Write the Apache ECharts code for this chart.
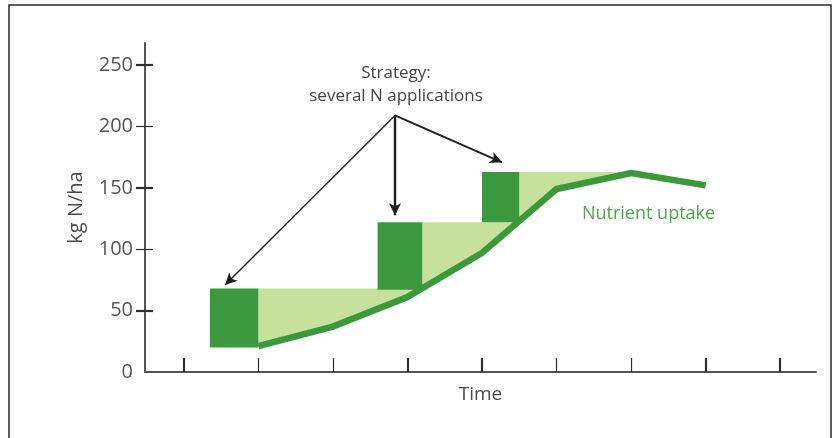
<!DOCTYPE html>
<html>
<head>
<meta charset="utf-8">
<script src="https://cdn.jsdelivr.net/npm/echarts@6/dist/echarts.min.js"></script>
<style>
  html, body { margin: 0; padding: 0; background: #ffffff; }
  #chart { width: 840px; height: 438px; }
</style>
</head>
<body>
<div id="chart"></div>
<script>
// Nutrient uptake over the season (kg N/ha) at each time step
const timeX = [2, 3, 4, 5, 6, 7, 8];
const uptakeValues = [21, 37, 61, 97, 149, 162, 152];

// Split N applications: time span of each dose and the N level before/after it
const applicationStart = [1.35, 3.6, 5.0];
const applicationEnd = [2.0, 4.2, 5.5];
const applicationBase = [20, 67, 122];
const applicationTop = [68, 122, 163];

// Axis ticks
const yTickLabels = [0, 50, 100, 150, 200, 250];
const yTicksBold = [50, 150, 250];
const yTicksThin = [100, 200];
const xTicksBold = [1, 4, 5, 8, 9];
const xTicksThin = [2, 3, 6, 7];

// Annotation arrows: from the label towards each application
const arrowFrom = [3.833, 209];
const arrowTo = [[1.553, 70.8], [3.833, 127.7], [5.268, 170.8]];
const arrowWidth = [1.4, 2.4, 1.9];

const FONT = "'Open Sans', 'Liberation Sans', sans-serif";
const DARK_GREEN = '#3b983c';
const LIGHT_GREEN = '#c6e19c';
const AXIS_GREY = '#4a4a4a';

const uptakePoints = timeX.map((x, i) => [x, uptakeValues[i]]);

function uptakeAt(x) {
  for (let i = 0; i < uptakePoints.length - 1; i++) {
    const [x0, y0] = uptakePoints[i];
    const [x1, y1] = uptakePoints[i + 1];
    if (x >= x0 && x <= x1) return y0 + (y1 - y0) * (x - x0) / (x1 - x0);
  }
  return uptakePoints[uptakePoints.length - 1][1];
}

// Area between an application's N level and the uptake curve
function surplusPolygon(i) {
  const level = applicationTop[i];
  const x0 = applicationEnd[i];
  const pts = [[x0, level]];
  const below = [];
  let xEnd = null;
  for (let k = 0; k < uptakePoints.length - 1; k++) {
    const [xa, ya] = uptakePoints[k];
    const [xb, yb] = uptakePoints[k + 1];
    if (xb <= x0) continue;
    if (yb >= level && ya < level) {
      xEnd = xa + (xb - xa) * (level - ya) / (yb - ya);
      break;
    }
    below.push([xb, yb]);
    if (yb > ya && k + 2 < uptakePoints.length && uptakePoints[k + 2][1] < yb) {
      xEnd = xb; // curve peaks below this level
      below.pop();
      break;
    }
  }
  if (xEnd === null) xEnd = uptakePoints[uptakePoints.length - 1][0];
  pts.push([xEnd, level]);
  pts.push([xEnd, uptakeAt(xEnd)]);
  for (let k = below.length - 1; k >= 0; k--) {
    if (below[k][0] < xEnd) pts.push(below[k]);
  }
  pts.push([x0, uptakeAt(x0)]);
  return pts;
}

const surplus = applicationTop.map((_, i) => surplusPolygon(i));

const chart = echarts.init(document.getElementById('chart'), null, { renderer: 'canvas' });

const X_MIN = 0.48, X_MAX = 9.48, Y_MAX = 268;

function tickAxisX(values, width) {
  return {
    type: 'value', position: 'bottom', min: X_MIN, max: X_MAX, offset: 6,
    axisLine: { show: false }, splitLine: { show: false }, axisLabel: { show: false },
    axisTick: { show: true, inside: true, length: 14, customValues: values,
      lineStyle: { color: '#2e2e2e', width: width } }
  };
}
function tickAxisY(values, width) {
  return {
    type: 'value', position: 'left', min: 0, max: Y_MAX, offset: 9,
    axisLine: { show: false }, splitLine: { show: false }, axisLabel: { show: false },
    axisTick: { show: true, inside: true, length: 17, customValues: values,
      lineStyle: { color: '#2e2e2e', width: width } }
  };
}

chart.setOption({
  backgroundColor: '#ffffff',
  animation: false,
  grid: { left: 145, right: 24, top: 43, bottom: 66, containLabel: false },
  xAxis: [
    {
      type: 'value', position: 'bottom', min: X_MIN, max: X_MAX,
      name: 'Time', nameLocation: 'middle', nameGap: 13,
      nameTextStyle: { fontFamily: FONT, fontSize: 19, color: AXIS_GREY },
      axisLine: { show: true, lineStyle: { color: '#555', width: 2 } },
      axisTick: { show: false }, axisLabel: { show: false }, splitLine: { show: false }
    },
    tickAxisX(xTicksBold, 2.2),
    tickAxisX(xTicksThin, 1.2)
  ],
  yAxis: [
    {
      type: 'value', position: 'left', min: 0, max: Y_MAX,
      name: 'kg N/ha', nameLocation: 'middle', nameGap: 59, nameRotate: 90,
      nameTextStyle: { fontFamily: FONT, fontSize: 20, color: AXIS_GREY },
      axisLine: { show: true, lineStyle: { color: '#555', width: 2 } },
      axisTick: { show: false }, splitLine: { show: false },
      axisLabel: { show: true, customValues: yTickLabels, margin: 12,
        fontFamily: FONT, fontSize: 20, color: '#555' }
    },
    tickAxisY(yTicksBold, 2.2),
    tickAxisY(yTicksThin, 1.2)
  ],
  series: [
    {
      name: 'surplus',
      type: 'custom',
      z: 1,
      silent: true,
      data: surplus.map(p => p[0]),
      renderItem: function (params, api) {
        const poly = surplus[params.dataIndex];
        return {
          type: 'polygon',
          shape: { points: poly.map(p => api.coord(p)) },
          style: { fill: LIGHT_GREEN }
        };
      }
    },
    {
      name: 'applications',
      type: 'custom',
      z: 2,
      silent: true,
      data: applicationStart.map((x, i) => [x, applicationTop[i]]),
      renderItem: function (params, api) {
        const i = params.dataIndex;
        const a = api.coord([applicationStart[i], applicationTop[i]]);
        const b = api.coord([applicationEnd[i], applicationBase[i]]);
        return {
          type: 'rect',
          shape: { x: a[0], y: a[1], width: b[0] - a[0], height: b[1] - a[1] },
          style: { fill: DARK_GREEN }
        };
      }
    },
    {
      name: 'Nutrient uptake',
      type: 'line',
      z: 3,
      silent: true,
      data: uptakePoints,
      showSymbol: false,
      lineStyle: { color: DARK_GREEN, width: 6.5, cap: 'butt', join: 'miter' },
      markLine: {
        silent: true,
        symbol: ['none', 'arrow'],
        symbolSize: [9, 12],
        label: { show: false },
        data: arrowTo.map((t, i) => [
          { coord: arrowFrom, lineStyle: { color: '#1e1e1e', width: arrowWidth[i], type: 'solid' } },
          { coord: t }
        ])
      }
    }
  ]
});

// Text annotations anchored in data space
const strategyPos = chart.convertToPixel({ gridIndex: 0 }, [3.847, 233.8]);
const uptakeLabelPos = chart.convertToPixel({ gridIndex: 0 }, [7.234, 128.5]);

chart.setOption({
  graphic: [
    {
      type: 'rect', silent: true, z: 0,
      shape: { x: 9, y: 5, width: 822, height: 440 },
      style: { fill: 'none', stroke: '#2a2a2a', lineWidth: 1.5 }
    },
    {
      type: 'text', silent: true,
      x: strategyPos[0], y: strategyPos[1],
      style: {
        text: 'Strategy:\nseveral N applications',
        font: '17px ' + FONT, fill: '#444', align: 'center', verticalAlign: 'middle',
        lineHeight: 23
      }
    },
    {
      type: 'text', silent: true,
      x: uptakeLabelPos[0], y: uptakeLabelPos[1],
      style: {
        text: 'Nutrient uptake',
        font: '18px ' + FONT, fill: '#4da74a', align: 'center', verticalAlign: 'middle'
      }
    }
  ]
});
</script>
</body>
</html>
